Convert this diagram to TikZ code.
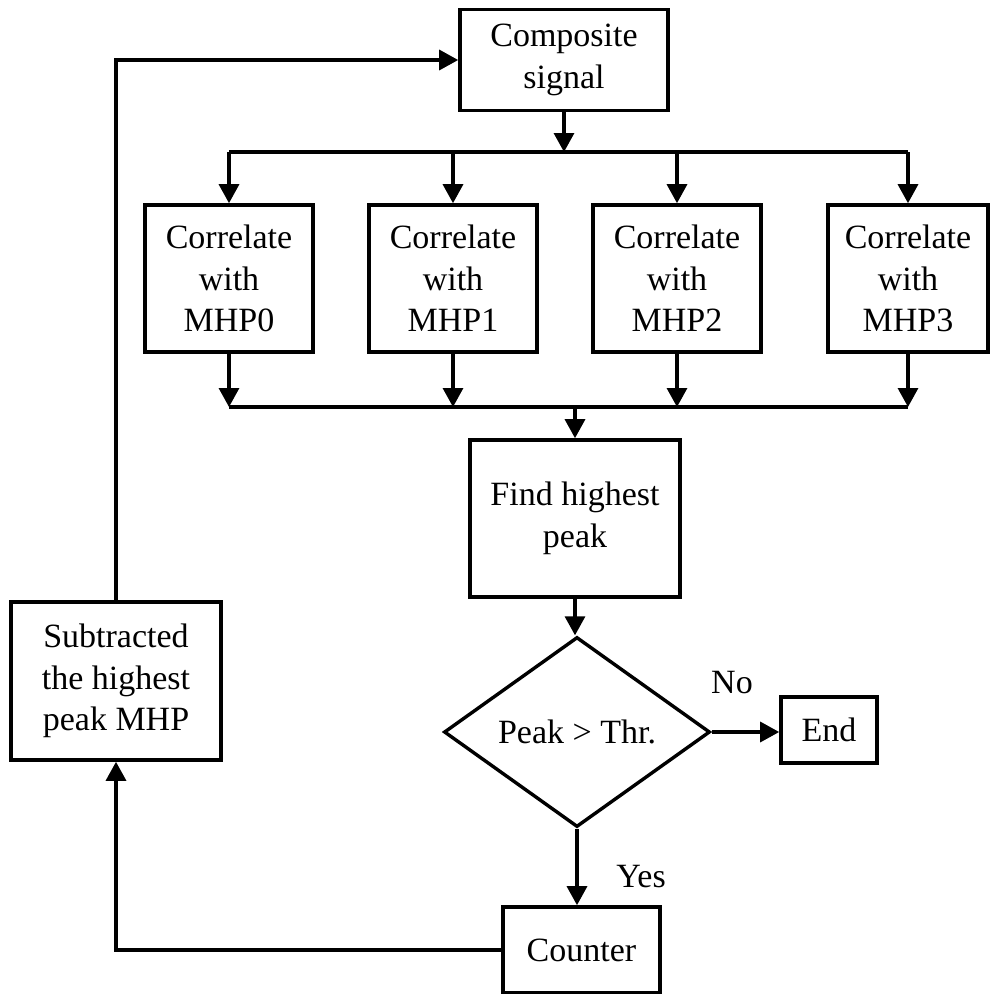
\documentclass[tikz,border=0pt]{standalone}
\usepackage{fontspec}
\setmainfont{Liberation Serif}
\usetikzlibrary{arrows.meta,shapes.geometric}
\begin{document}
\begin{tikzpicture}[x=1pt,y=-1pt,
  every node/.style={font=\fontsize{34}{41.5}\selectfont, align=center, inner sep=0pt},
  block/.style={draw, line width=3.6pt, rectangle},
  decision/.style={draw, line width=3.4pt, diamond},
  link/.style={line width=3.2pt, -{Triangle[length=19pt,width=20pt]}},
  wire/.style={line width=3.2pt},
  tag/.style={anchor=center}]
\useasboundingbox (0,0) rectangle (990,994);

% main blocks
\node[block, minimum width=208pt, minimum height=101pt] (comp) at (564,60) {Composite\\signal};
\node[block, minimum width=168pt, minimum height=147pt] (c0) at (229,278.5) {Correlate\\with\\MHP0};
\node[block, minimum width=168pt, minimum height=147pt] (c1) at (453,278.5) {Correlate\\with\\MHP1};
\node[block, minimum width=168pt, minimum height=147pt] (c2) at (677,278.5) {Correlate\\with\\MHP2};
\node[block, minimum width=160pt, minimum height=147pt] (c3) at (908,278.5) {Correlate\\with\\MHP3};
\node[block, minimum width=210pt, minimum height=157pt] (find) at (575,518.5) {Find highest\\peak};
\node[decision, minimum width=266pt, minimum height=190pt] (dec) at (577,732) {Peak > Thr.};
\node[block, minimum width=96pt, minimum height=66pt] (end) at (829,730) {End};
\node[block, minimum width=157pt, minimum height=86pt] (cnt) at (581.5,950) {Counter};
\node[block, minimum width=210pt, minimum height=158pt] (sub) at (116,681) {Subtracted\\the highest\\peak MHP};

% distribution bus above the correlators
\coordinate (top) at (564,152);
\coordinate (bot) at (575,407);
\draw[link] (comp.south) -- (top);
\draw[wire] (c0.north |- top) -- (c3.north |- top);
\foreach \c in {c0,c1,c2,c3}{
  \draw[link] (\c.north |- top) -- (\c.north);
}

% collecting bus below the correlators
\foreach \c in {c0,c1,c2,c3}{
  \draw[link] (\c.south) -- (\c.south |- bot);
}
\draw[wire] (c0.south |- bot) -- (c3.south |- bot);
\draw[link] (find.north |- bot) -- (find.north);

% decision path
\draw[link] (find.south) -- (find.south |- dec.north);
\draw[link] (dec.east) -- (end.west |- dec.east);
\draw[link] (dec.south) -- (dec.south |- cnt.north);
\node[tag] (no) at (732,683) {No};
\node[tag] (yes) at (641,877) {Yes};

% feedback loop
\draw[link] (cnt.west) -| (sub.south);
\draw[link] (sub.north) |- (comp.west);
\end{tikzpicture}
\end{document}
